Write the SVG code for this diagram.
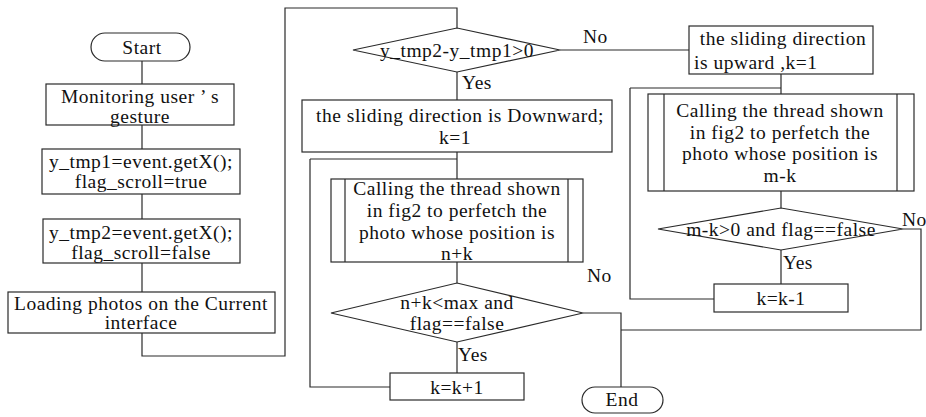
<svg xmlns="http://www.w3.org/2000/svg" width="926" height="417" viewBox="0 0 926 417">
<style>
.s{fill:#fff;stroke:#2a2a2a;stroke-width:1.2}
.c{fill:none;stroke:#2a2a2a;stroke-width:1.2}
text{font-family:"Liberation Serif","Times New Roman",serif;font-size:19.5px;letter-spacing:.5px;fill:#111}
.m{text-anchor:middle}
</style>
<rect width="926" height="417" fill="#fff"/>
<g id="connectors">
<path class="c" d="M142,61V84M142,125V149M142,194V219M142,263V292M142,333V356H285V8H457V28"/>
<path class="c" d="M457,72V100M457,152V179M310,159H457M457,262V283M457,342V373M390,387H310V159"/>
<path class="c" d="M560,50H689M781,74V94M630,88H781M781,191V208M781,250V284M714,299H630V88"/>
<path class="c" d="M583,313H621V387M621,330H921V229H903"/>
</g>
<g id="start"><rect class="s" x="91" y="33" width="99" height="28" rx="14"/><text class="m" x="142" y="54">Start</text></g>
<g id="monitor"><rect class="s" x="46" y="84" width="188" height="41"/><text class="m" x="140" y="103">Monitoring user ’  s</text><text class="m" x="140" y="123">gesture</text></g>
<g id="tmp1"><rect class="s" x="42" y="149" width="198" height="45"/><text class="m" x="141" y="168">y_tmp1=event.getX();</text><text class="m" x="141" y="188">flag_scroll=true</text></g>
<g id="tmp2"><rect class="s" x="43" y="219" width="197" height="44"/><text class="m" x="141" y="239">y_tmp2=event.getX();</text><text class="m" x="141" y="259">flag_scroll=false</text></g>
<g id="loading"><rect class="s" x="8" y="292" width="267" height="41"/><text class="m" x="141" y="310">Loading photos on the Current</text><text class="m" x="141" y="329">interface</text></g>
<g id="dec1"><polygon class="s" points="353,50 457,28 560,50 457,72"/><text class="m" x="457" y="57">y_tmp2-y_tmp1&gt;0</text><text x="583" y="43">No</text><text x="462" y="89">Yes</text></g>
<g id="down"><rect class="s" x="302" y="100" width="310" height="52"/><text class="m" x="460" y="122">the sliding direction is Downward;</text><text class="m" x="455" y="144">k=1</text></g>
<g id="call1"><rect class="s" x="331" y="179" width="252" height="83"/><path class="c" d="M345,179V262M568,179V262"/><text class="m" x="457" y="195">Calling the thread shown</text><text class="m" x="457" y="217">in fig2 to perfetch the</text><text class="m" x="457" y="239">photo whose position is</text><text class="m" x="457" y="260">n+k</text></g>
<g id="dec2"><polygon class="s" points="331,313 457,283 583,313 457,342"/><text class="m" x="457" y="309">n+k&lt;max and</text><text class="m" x="457" y="330">flag==false</text><text x="587" y="282">No</text><text x="458" y="361">Yes</text></g>
<g id="inc"><rect class="s" x="390" y="373" width="134" height="27"/><text class="m" x="457" y="394">k=k+1</text></g>
<g id="end"><rect class="s" x="582" y="387" width="81" height="26" rx="13"/><text class="m" x="622" y="406">End</text></g>
<g id="up"><rect class="s" x="689" y="26" width="184" height="48"/><text class="m" x="783" y="45">the sliding direction</text><text x="694" y="69">is upward ,k=1</text></g>
<g id="call2"><rect class="s" x="648" y="94" width="266" height="97"/><path class="c" d="M664,94V191M897,94V191"/><text class="m" x="780" y="117">Calling the thread shown</text><text class="m" x="780" y="139">in fig2 to perfetch the</text><text class="m" x="780" y="160">photo whose position is</text><text class="m" x="780" y="182">m-k</text></g>
<g id="dec3"><polygon class="s" points="658,229 781,208 903,229 781,250"/><text class="m" x="781" y="236">m-k&gt;0 and flag==false</text><text x="902" y="226">No</text><text x="783" y="269">Yes</text></g>
<g id="dec"><rect class="s" x="714" y="284" width="134" height="28"/><text class="m" x="781" y="305">k=k-1</text></g>
</svg>
